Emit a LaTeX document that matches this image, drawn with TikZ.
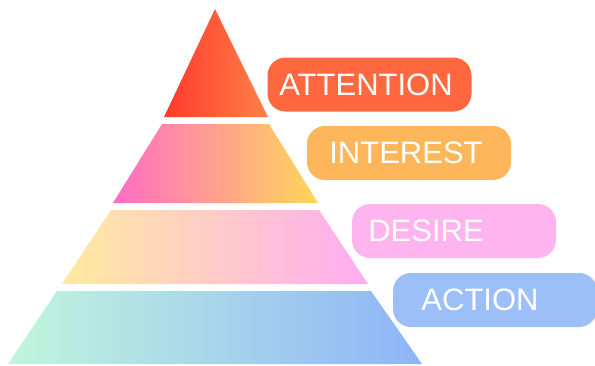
\documentclass[tikz,border=0pt]{standalone}
\usepackage{fontspec}
\setmainfont{Liberation Sans}
\usetikzlibrary{positioning}
\definecolor{attred}{RGB}{255, 58, 46}
\definecolor{attorange}{RGB}{255, 128, 72}
\definecolor{intpink}{RGB}{255, 108, 196}
\definecolor{intyellow}{RGB}{255, 214, 88}
\definecolor{desyellow}{RGB}{255, 234, 158}
\definecolor{despink}{RGB}{255, 172, 242}
\definecolor{actmint}{RGB}{192, 246, 220}
\definecolor{actblue}{RGB}{142, 180, 248}
\definecolor{tagatt}{RGB}{255, 104, 62}
\definecolor{tagint}{RGB}{253, 182, 90}
\definecolor{tagdes}{RGB}{253, 180, 239}
\definecolor{tagact}{RGB}{157, 191, 247}

\begin{document}
\begin{tikzpicture}[
  x=1pt, y=-1pt,
  tag/.style={rounded corners=18pt, minimum width=204pt, minimum height=54pt, inner sep=0pt},
  tagtext/.style={text=white, font=\fontsize{31}{31}\selectfont, inner sep=0pt}
]
  \useasboundingbox (0,0) rectangle (595,365);

  % pyramid layers
  \shade[left color=attred, right color=attorange] (215,9) -- (268,117) -- (164,117) -- cycle;
  \shade[left color=intpink, right color=intyellow] (162,124) -- (269,124) -- (318,203) -- (113,203) -- cycle;
  \shade[left color=desyellow, right color=despink] (111,210) -- (319,210) -- (368,284) -- (62,284) -- cycle;
  \shade[left color=actmint, right color=actblue] (57,291) -- (371,291) -- (422,364) -- (8,364) -- cycle;

  % labels
  \node[tag, fill=tagatt] (attention) at (369.5,84.5) {};
  \node[tagtext] (attentiontext) at (366,84.5) {ATTENTION};
  \node[tag, fill=tagint] (interest) at (409,153) {};
  \node[tagtext] (interesttext) at (406,153) {INTEREST};
  \node[tag, fill=tagdes] (desire) at (454,231) {};
  \node[tagtext] (desiretext) at (426,231) {DESIRE};
  \node[tag, fill=tagact] (action) at (495,300) {};
  \node[tagtext] (actiontext) at (480,300) {ACTION};
\end{tikzpicture}
\end{document}
